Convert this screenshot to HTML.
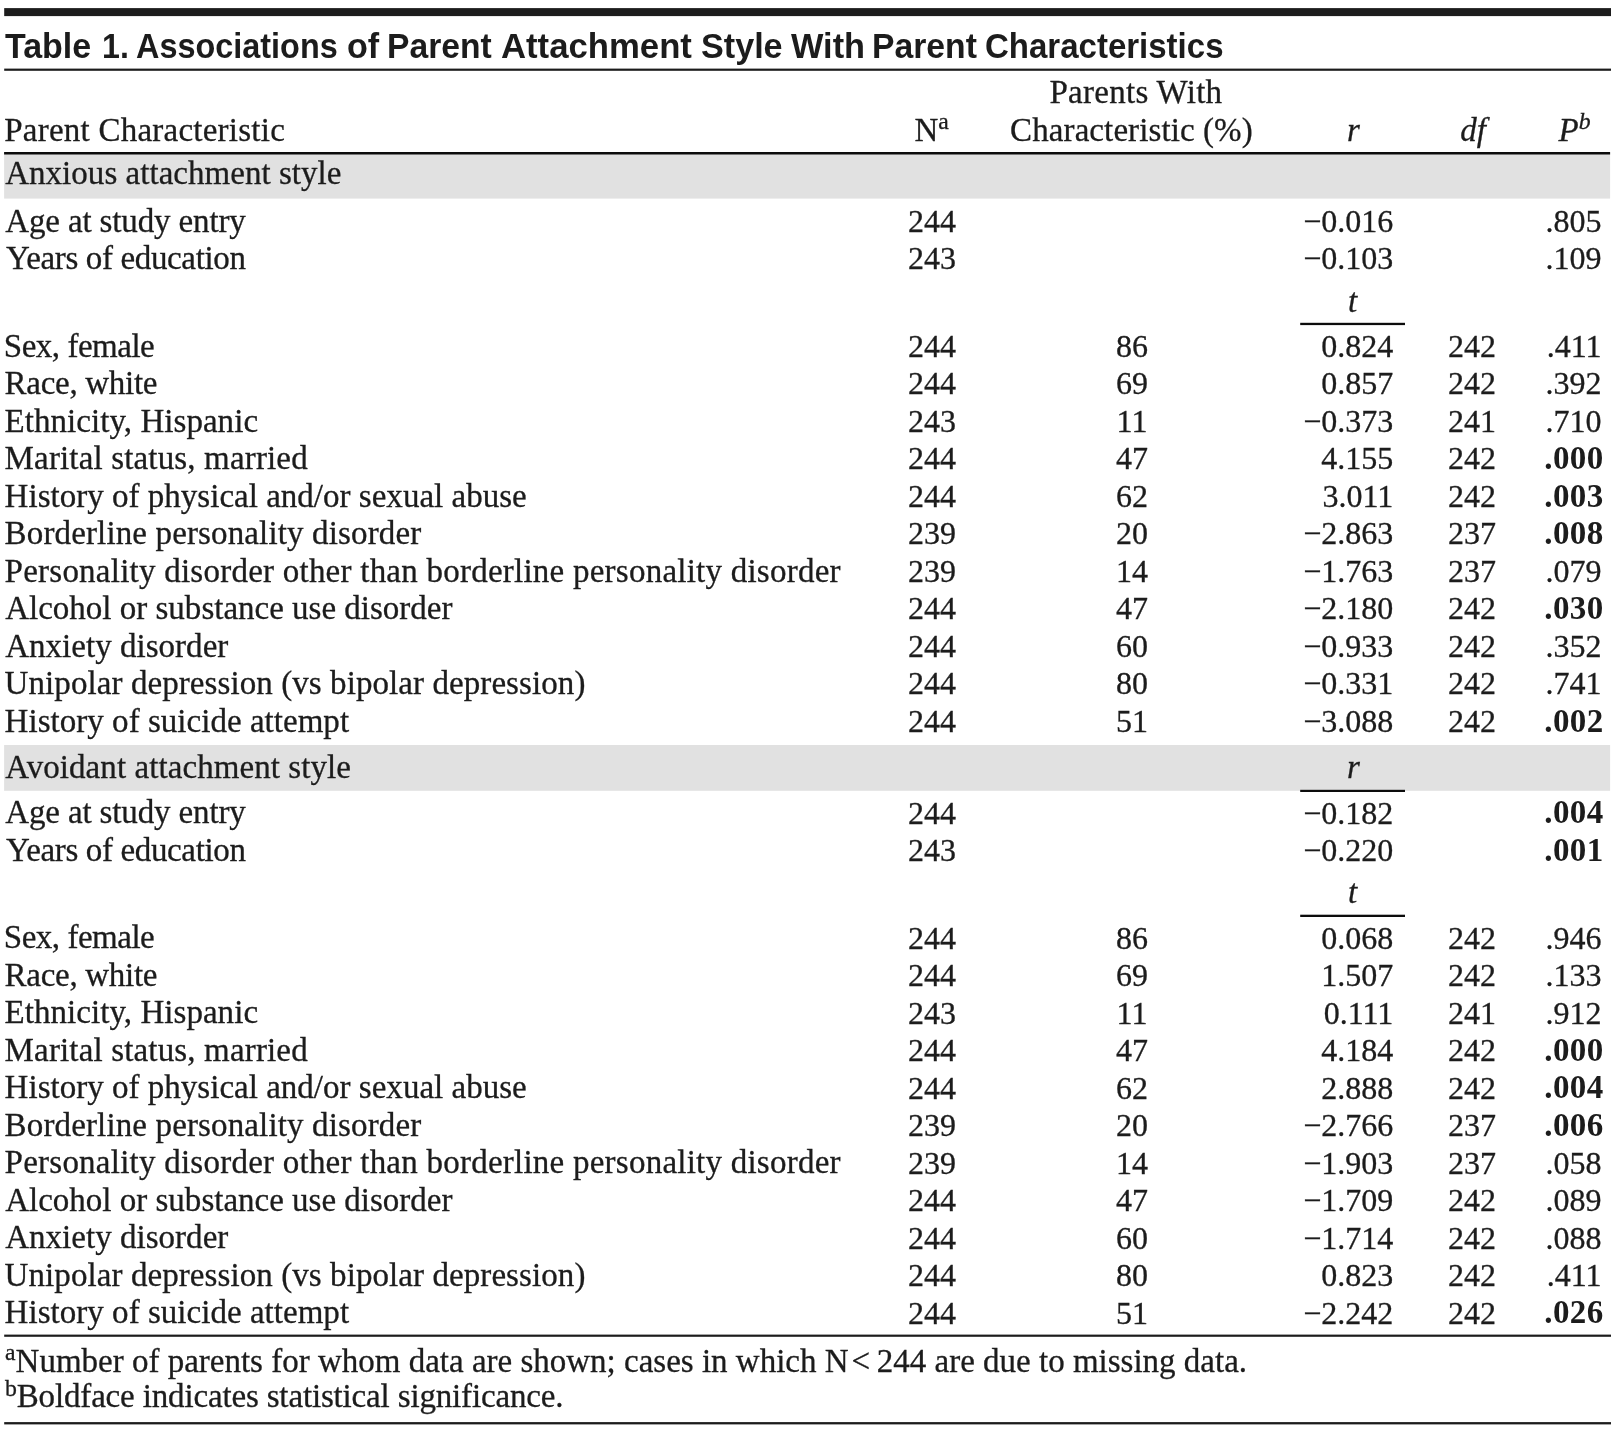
<!DOCTYPE html>
<html lang="en"><head><meta charset="utf-8"><title>Table 1</title>
<style>
html,body{margin:0;padding:0;background:#fff;}
body{width:1617px;height:1430px;position:relative;overflow:hidden;font-family:"Liberation Serif", serif;color:#1c1c1c;}
.ln{position:absolute;left:0;top:0;}
.tx{position:absolute;left:0;top:0;width:1617px;height:1430px;will-change:transform;}
.t{position:absolute;white-space:nowrap;line-height:40px;font-family:"Liberation Serif", serif;font-kerning:normal;-webkit-text-stroke:0.3px #1c1c1c;}
.s{font-family:"Liberation Sans", sans-serif;-webkit-text-stroke:0;}
.u{font-size:0.72em;vertical-align:baseline;position:relative;top:-0.49em;line-height:0;}
</style></head>
<body>
<svg class="ln" width="1617" height="1430" viewBox="0 0 1617 1430">
<rect x="4.1" y="153" width="1606" height="45.6" fill="#e1e1e1"/>
<rect x="4.1" y="745.0" width="1606" height="45.8" fill="#e1e1e1"/>
<rect x="4.2" y="8.1" width="1606.8" height="8" fill="#1c1c1c"/>
<rect x="4.2" y="68.6" width="1606.8" height="2.2" fill="#1c1c1c"/>
<rect x="4.1" y="152.0" width="1606" height="2.5" fill="#0c0c0c"/>
<rect x="1300.2" y="322.8" width="104.8" height="2.3" fill="#0c0c0c"/>
<rect x="1300.2" y="789.8" width="104.8" height="2.2" fill="#0c0c0c"/>
<rect x="1300.2" y="914.7" width="104.8" height="2.3" fill="#0c0c0c"/>
<rect x="4.2" y="1334.6" width="1606.8" height="2.2" fill="#1c1c1c"/>
<rect x="4.2" y="1422.1" width="1606.8" height="2.3" fill="#1c1c1c"/>
</svg>
<div class="tx">
<span class="t s" style="top:25.87px;font-size:35px;left:4.70px;transform:scaleX(0.9705);transform-origin:left center;font-weight:bold;">Table </span>
<span class="t s" style="top:25.87px;font-size:35px;left:102.06px;transform:scaleX(0.9192);transform-origin:left center;font-weight:bold;">1. </span>
<span class="t s" style="top:25.87px;font-size:35px;left:136.17px;transform:scaleX(0.9259);transform-origin:left center;font-weight:bold;">Associations </span>
<span class="t s" style="top:25.87px;font-size:35px;left:346.52px;transform:scaleX(0.9758);transform-origin:left center;font-weight:bold;">of </span>
<span class="t s" style="top:25.87px;font-size:35px;left:387.48px;transform:scaleX(0.9607);transform-origin:left center;font-weight:bold;">Parent </span>
<span class="t s" style="top:25.87px;font-size:35px;left:501.11px;transform:scaleX(0.9917);transform-origin:left center;font-weight:bold;">Attachment </span>
<span class="t s" style="top:25.87px;font-size:35px;left:701.12px;transform:scaleX(0.9756);transform-origin:left center;font-weight:bold;">Style </span>
<span class="t s" style="top:25.87px;font-size:35px;left:790.50px;transform:scaleX(0.9811);transform-origin:left center;font-weight:bold;">With </span>
<span class="t s" style="top:25.87px;font-size:35px;left:871.97px;transform:scaleX(0.9626);transform-origin:left center;font-weight:bold;">Parent </span>
<span class="t s" style="top:25.87px;font-size:35px;left:985.36px;transform:scaleX(0.9430);transform-origin:left center;font-weight:bold;">Characteristics </span>
<span class="t" style="top:109.86px;font-size:33px;letter-spacing:0.240px;left:4.20px;">Parent Characteristic</span>
<span class="t" style="top:109.86px;font-size:33px;left:931.70px;transform:translateX(-50%);transform-origin:center center;">N<sup class="u">a</sup></span>
<span class="t" style="top:72.06px;font-size:33px;letter-spacing:0.291px;left:1135.95px;transform:translateX(-50%);transform-origin:center center;">Parents With</span>
<span class="t" style="top:109.86px;font-size:33px;letter-spacing:0.094px;left:1131.45px;transform:translateX(-50%);transform-origin:center center;">Characteristic (%)</span>
<span class="t" style="top:109.86px;font-size:33px;left:1353.50px;transform:translateX(-50%);transform-origin:center center;"><i>r</i></span>
<span class="t" style="top:109.86px;font-size:33px;left:1473.00px;transform:translateX(-50%);transform-origin:center center;"><i>df</i></span>
<span class="t" style="top:109.86px;font-size:33px;left:1574.50px;transform:translateX(-50%);transform-origin:center center;"><i>P</i><sup class="u"><i>b</i></sup></span>
<span class="t" style="top:152.56px;font-size:33px;letter-spacing:0.035px;left:5.20px;">Anxious attachment style</span>
<span class="t" style="top:200.56px;font-size:33px;letter-spacing:-0.129px;left:5.20px;">Age at study entry</span>
<span class="t" style="top:200.90px;font-size:32px;left:932.00px;transform:translateX(-50%);transform-origin:center center;">244</span>
<span class="t" style="top:200.90px;font-size:32px;right:223.70px;">−0.016</span>
<span class="t" style="top:200.90px;font-size:32px;right:15.50px;">.805</span>
<span class="t" style="top:238.06px;font-size:33px;letter-spacing:-0.353px;left:6.00px;">Years of education</span>
<span class="t" style="top:238.40px;font-size:32px;left:932.00px;transform:translateX(-50%);transform-origin:center center;">243</span>
<span class="t" style="top:238.40px;font-size:32px;right:223.70px;">−0.103</span>
<span class="t" style="top:238.40px;font-size:32px;right:15.50px;">.109</span>
<span class="t" style="top:325.56px;font-size:33px;letter-spacing:-0.480px;left:3.80px;">Sex, female</span>
<span class="t" style="top:325.90px;font-size:32px;left:932.00px;transform:translateX(-50%);transform-origin:center center;">244</span>
<span class="t" style="top:325.90px;font-size:32px;left:1132.00px;transform:translateX(-50%);transform-origin:center center;">86</span>
<span class="t" style="top:325.90px;font-size:32px;right:223.70px;">0.824</span>
<span class="t" style="top:325.90px;font-size:32px;left:1472.00px;transform:translateX(-50%);transform-origin:center center;">242</span>
<span class="t" style="top:325.90px;font-size:32px;right:15.50px;">.411</span>
<span class="t" style="top:363.06px;font-size:33px;letter-spacing:-0.290px;left:4.60px;">Race, white</span>
<span class="t" style="top:363.40px;font-size:32px;left:932.00px;transform:translateX(-50%);transform-origin:center center;">244</span>
<span class="t" style="top:363.40px;font-size:32px;left:1132.00px;transform:translateX(-50%);transform-origin:center center;">69</span>
<span class="t" style="top:363.40px;font-size:32px;right:223.70px;">0.857</span>
<span class="t" style="top:363.40px;font-size:32px;left:1472.00px;transform:translateX(-50%);transform-origin:center center;">242</span>
<span class="t" style="top:363.40px;font-size:32px;right:15.50px;">.392</span>
<span class="t" style="top:400.56px;font-size:33px;letter-spacing:0.044px;left:4.60px;">Ethnicity, Hispanic</span>
<span class="t" style="top:400.90px;font-size:32px;left:932.00px;transform:translateX(-50%);transform-origin:center center;">243</span>
<span class="t" style="top:400.90px;font-size:32px;left:1132.00px;transform:translateX(-50%);transform-origin:center center;">11</span>
<span class="t" style="top:400.90px;font-size:32px;right:223.70px;">−0.373</span>
<span class="t" style="top:400.90px;font-size:32px;left:1472.00px;transform:translateX(-50%);transform-origin:center center;">241</span>
<span class="t" style="top:400.90px;font-size:32px;right:15.50px;">.710</span>
<span class="t" style="top:438.06px;font-size:33px;letter-spacing:0.155px;left:4.60px;">Marital status, married</span>
<span class="t" style="top:438.40px;font-size:32px;left:932.00px;transform:translateX(-50%);transform-origin:center center;">244</span>
<span class="t" style="top:438.40px;font-size:32px;left:1132.00px;transform:translateX(-50%);transform-origin:center center;">47</span>
<span class="t" style="top:438.40px;font-size:32px;right:223.70px;">4.155</span>
<span class="t" style="top:438.40px;font-size:32px;left:1472.00px;transform:translateX(-50%);transform-origin:center center;">242</span>
<span class="t" style="top:438.06px;font-size:33px;letter-spacing:0.400px;right:13.40px;font-weight:bold;-webkit-text-stroke:0;">.000</span>
<span class="t" style="top:475.56px;font-size:33px;letter-spacing:0.018px;left:4.60px;">History of physical and/or sexual abuse</span>
<span class="t" style="top:475.90px;font-size:32px;left:932.00px;transform:translateX(-50%);transform-origin:center center;">244</span>
<span class="t" style="top:475.90px;font-size:32px;left:1132.00px;transform:translateX(-50%);transform-origin:center center;">62</span>
<span class="t" style="top:475.90px;font-size:32px;right:223.70px;">3.011</span>
<span class="t" style="top:475.90px;font-size:32px;left:1472.00px;transform:translateX(-50%);transform-origin:center center;">242</span>
<span class="t" style="top:475.56px;font-size:33px;letter-spacing:0.400px;right:13.40px;font-weight:bold;-webkit-text-stroke:0;">.003</span>
<span class="t" style="top:513.06px;font-size:33px;letter-spacing:0.140px;left:4.60px;">Borderline personality disorder</span>
<span class="t" style="top:513.40px;font-size:32px;left:932.00px;transform:translateX(-50%);transform-origin:center center;">239</span>
<span class="t" style="top:513.40px;font-size:32px;left:1132.00px;transform:translateX(-50%);transform-origin:center center;">20</span>
<span class="t" style="top:513.40px;font-size:32px;right:223.70px;">−2.863</span>
<span class="t" style="top:513.40px;font-size:32px;left:1472.00px;transform:translateX(-50%);transform-origin:center center;">237</span>
<span class="t" style="top:513.06px;font-size:33px;letter-spacing:0.400px;right:13.40px;font-weight:bold;-webkit-text-stroke:0;">.008</span>
<span class="t" style="top:550.56px;font-size:33px;letter-spacing:0.239px;left:4.60px;">Personality disorder other than borderline personality disorder</span>
<span class="t" style="top:550.90px;font-size:32px;left:932.00px;transform:translateX(-50%);transform-origin:center center;">239</span>
<span class="t" style="top:550.90px;font-size:32px;left:1132.00px;transform:translateX(-50%);transform-origin:center center;">14</span>
<span class="t" style="top:550.90px;font-size:32px;right:223.70px;">−1.763</span>
<span class="t" style="top:550.90px;font-size:32px;left:1472.00px;transform:translateX(-50%);transform-origin:center center;">237</span>
<span class="t" style="top:550.90px;font-size:32px;right:15.50px;">.079</span>
<span class="t" style="top:588.06px;font-size:33px;letter-spacing:0.003px;left:5.20px;">Alcohol or substance use disorder</span>
<span class="t" style="top:588.40px;font-size:32px;left:932.00px;transform:translateX(-50%);transform-origin:center center;">244</span>
<span class="t" style="top:588.40px;font-size:32px;left:1132.00px;transform:translateX(-50%);transform-origin:center center;">47</span>
<span class="t" style="top:588.40px;font-size:32px;right:223.70px;">−2.180</span>
<span class="t" style="top:588.40px;font-size:32px;left:1472.00px;transform:translateX(-50%);transform-origin:center center;">242</span>
<span class="t" style="top:588.06px;font-size:33px;letter-spacing:0.400px;right:13.40px;font-weight:bold;-webkit-text-stroke:0;">.030</span>
<span class="t" style="top:625.56px;font-size:33px;letter-spacing:0.027px;left:5.20px;">Anxiety disorder</span>
<span class="t" style="top:625.90px;font-size:32px;left:932.00px;transform:translateX(-50%);transform-origin:center center;">244</span>
<span class="t" style="top:625.90px;font-size:32px;left:1132.00px;transform:translateX(-50%);transform-origin:center center;">60</span>
<span class="t" style="top:625.90px;font-size:32px;right:223.70px;">−0.933</span>
<span class="t" style="top:625.90px;font-size:32px;left:1472.00px;transform:translateX(-50%);transform-origin:center center;">242</span>
<span class="t" style="top:625.90px;font-size:32px;right:15.50px;">.352</span>
<span class="t" style="top:663.06px;font-size:33px;letter-spacing:0.081px;left:4.60px;">Unipolar depression (vs bipolar depression)</span>
<span class="t" style="top:663.40px;font-size:32px;left:932.00px;transform:translateX(-50%);transform-origin:center center;">244</span>
<span class="t" style="top:663.40px;font-size:32px;left:1132.00px;transform:translateX(-50%);transform-origin:center center;">80</span>
<span class="t" style="top:663.40px;font-size:32px;right:223.70px;">−0.331</span>
<span class="t" style="top:663.40px;font-size:32px;left:1472.00px;transform:translateX(-50%);transform-origin:center center;">242</span>
<span class="t" style="top:663.40px;font-size:32px;right:15.50px;">.741</span>
<span class="t" style="top:700.56px;font-size:33px;letter-spacing:0.032px;left:4.60px;">History of suicide attempt</span>
<span class="t" style="top:700.90px;font-size:32px;left:932.00px;transform:translateX(-50%);transform-origin:center center;">244</span>
<span class="t" style="top:700.90px;font-size:32px;left:1132.00px;transform:translateX(-50%);transform-origin:center center;">51</span>
<span class="t" style="top:700.90px;font-size:32px;right:223.70px;">−3.088</span>
<span class="t" style="top:700.90px;font-size:32px;left:1472.00px;transform:translateX(-50%);transform-origin:center center;">242</span>
<span class="t" style="top:700.56px;font-size:33px;letter-spacing:0.400px;right:13.40px;font-weight:bold;-webkit-text-stroke:0;">.002</span>
<span class="t" style="top:280.56px;font-size:33px;left:1352.70px;transform:translateX(-50%);transform-origin:center center;"><i>t</i></span>
<span class="t" style="top:746.66px;font-size:33px;letter-spacing:0.075px;left:5.20px;">Avoidant attachment style</span>
<span class="t" style="top:746.76px;font-size:33px;left:1353.50px;transform:translateX(-50%);transform-origin:center center;"><i>r</i></span>
<span class="t" style="top:792.46px;font-size:33px;letter-spacing:-0.129px;left:5.20px;">Age at study entry</span>
<span class="t" style="top:792.80px;font-size:32px;left:932.00px;transform:translateX(-50%);transform-origin:center center;">244</span>
<span class="t" style="top:792.80px;font-size:32px;right:223.70px;">−0.182</span>
<span class="t" style="top:792.46px;font-size:33px;letter-spacing:0.400px;right:13.40px;font-weight:bold;-webkit-text-stroke:0;">.004</span>
<span class="t" style="top:829.96px;font-size:33px;letter-spacing:-0.353px;left:6.00px;">Years of education</span>
<span class="t" style="top:830.30px;font-size:32px;left:932.00px;transform:translateX(-50%);transform-origin:center center;">243</span>
<span class="t" style="top:830.30px;font-size:32px;right:223.70px;">−0.220</span>
<span class="t" style="top:829.96px;font-size:33px;letter-spacing:0.400px;right:13.40px;font-weight:bold;-webkit-text-stroke:0;">.001</span>
<span class="t" style="top:917.46px;font-size:33px;letter-spacing:-0.480px;left:3.80px;">Sex, female</span>
<span class="t" style="top:917.80px;font-size:32px;left:932.00px;transform:translateX(-50%);transform-origin:center center;">244</span>
<span class="t" style="top:917.80px;font-size:32px;left:1132.00px;transform:translateX(-50%);transform-origin:center center;">86</span>
<span class="t" style="top:917.80px;font-size:32px;right:223.70px;">0.068</span>
<span class="t" style="top:917.80px;font-size:32px;left:1472.00px;transform:translateX(-50%);transform-origin:center center;">242</span>
<span class="t" style="top:917.80px;font-size:32px;right:15.50px;">.946</span>
<span class="t" style="top:954.96px;font-size:33px;letter-spacing:-0.290px;left:4.60px;">Race, white</span>
<span class="t" style="top:955.30px;font-size:32px;left:932.00px;transform:translateX(-50%);transform-origin:center center;">244</span>
<span class="t" style="top:955.30px;font-size:32px;left:1132.00px;transform:translateX(-50%);transform-origin:center center;">69</span>
<span class="t" style="top:955.30px;font-size:32px;right:223.70px;">1.507</span>
<span class="t" style="top:955.30px;font-size:32px;left:1472.00px;transform:translateX(-50%);transform-origin:center center;">242</span>
<span class="t" style="top:955.30px;font-size:32px;right:15.50px;">.133</span>
<span class="t" style="top:992.46px;font-size:33px;letter-spacing:0.044px;left:4.60px;">Ethnicity, Hispanic</span>
<span class="t" style="top:992.80px;font-size:32px;left:932.00px;transform:translateX(-50%);transform-origin:center center;">243</span>
<span class="t" style="top:992.80px;font-size:32px;left:1132.00px;transform:translateX(-50%);transform-origin:center center;">11</span>
<span class="t" style="top:992.80px;font-size:32px;right:223.70px;">0.111</span>
<span class="t" style="top:992.80px;font-size:32px;left:1472.00px;transform:translateX(-50%);transform-origin:center center;">241</span>
<span class="t" style="top:992.80px;font-size:32px;right:15.50px;">.912</span>
<span class="t" style="top:1029.96px;font-size:33px;letter-spacing:0.155px;left:4.60px;">Marital status, married</span>
<span class="t" style="top:1030.30px;font-size:32px;left:932.00px;transform:translateX(-50%);transform-origin:center center;">244</span>
<span class="t" style="top:1030.30px;font-size:32px;left:1132.00px;transform:translateX(-50%);transform-origin:center center;">47</span>
<span class="t" style="top:1030.30px;font-size:32px;right:223.70px;">4.184</span>
<span class="t" style="top:1030.30px;font-size:32px;left:1472.00px;transform:translateX(-50%);transform-origin:center center;">242</span>
<span class="t" style="top:1029.96px;font-size:33px;letter-spacing:0.400px;right:13.40px;font-weight:bold;-webkit-text-stroke:0;">.000</span>
<span class="t" style="top:1067.46px;font-size:33px;letter-spacing:0.018px;left:4.60px;">History of physical and/or sexual abuse</span>
<span class="t" style="top:1067.80px;font-size:32px;left:932.00px;transform:translateX(-50%);transform-origin:center center;">244</span>
<span class="t" style="top:1067.80px;font-size:32px;left:1132.00px;transform:translateX(-50%);transform-origin:center center;">62</span>
<span class="t" style="top:1067.80px;font-size:32px;right:223.70px;">2.888</span>
<span class="t" style="top:1067.80px;font-size:32px;left:1472.00px;transform:translateX(-50%);transform-origin:center center;">242</span>
<span class="t" style="top:1067.46px;font-size:33px;letter-spacing:0.400px;right:13.40px;font-weight:bold;-webkit-text-stroke:0;">.004</span>
<span class="t" style="top:1104.96px;font-size:33px;letter-spacing:0.140px;left:4.60px;">Borderline personality disorder</span>
<span class="t" style="top:1105.30px;font-size:32px;left:932.00px;transform:translateX(-50%);transform-origin:center center;">239</span>
<span class="t" style="top:1105.30px;font-size:32px;left:1132.00px;transform:translateX(-50%);transform-origin:center center;">20</span>
<span class="t" style="top:1105.30px;font-size:32px;right:223.70px;">−2.766</span>
<span class="t" style="top:1105.30px;font-size:32px;left:1472.00px;transform:translateX(-50%);transform-origin:center center;">237</span>
<span class="t" style="top:1104.96px;font-size:33px;letter-spacing:0.400px;right:13.40px;font-weight:bold;-webkit-text-stroke:0;">.006</span>
<span class="t" style="top:1142.46px;font-size:33px;letter-spacing:0.239px;left:4.60px;">Personality disorder other than borderline personality disorder</span>
<span class="t" style="top:1142.80px;font-size:32px;left:932.00px;transform:translateX(-50%);transform-origin:center center;">239</span>
<span class="t" style="top:1142.80px;font-size:32px;left:1132.00px;transform:translateX(-50%);transform-origin:center center;">14</span>
<span class="t" style="top:1142.80px;font-size:32px;right:223.70px;">−1.903</span>
<span class="t" style="top:1142.80px;font-size:32px;left:1472.00px;transform:translateX(-50%);transform-origin:center center;">237</span>
<span class="t" style="top:1142.80px;font-size:32px;right:15.50px;">.058</span>
<span class="t" style="top:1179.96px;font-size:33px;letter-spacing:0.003px;left:5.20px;">Alcohol or substance use disorder</span>
<span class="t" style="top:1180.30px;font-size:32px;left:932.00px;transform:translateX(-50%);transform-origin:center center;">244</span>
<span class="t" style="top:1180.30px;font-size:32px;left:1132.00px;transform:translateX(-50%);transform-origin:center center;">47</span>
<span class="t" style="top:1180.30px;font-size:32px;right:223.70px;">−1.709</span>
<span class="t" style="top:1180.30px;font-size:32px;left:1472.00px;transform:translateX(-50%);transform-origin:center center;">242</span>
<span class="t" style="top:1180.30px;font-size:32px;right:15.50px;">.089</span>
<span class="t" style="top:1217.46px;font-size:33px;letter-spacing:0.027px;left:5.20px;">Anxiety disorder</span>
<span class="t" style="top:1217.80px;font-size:32px;left:932.00px;transform:translateX(-50%);transform-origin:center center;">244</span>
<span class="t" style="top:1217.80px;font-size:32px;left:1132.00px;transform:translateX(-50%);transform-origin:center center;">60</span>
<span class="t" style="top:1217.80px;font-size:32px;right:223.70px;">−1.714</span>
<span class="t" style="top:1217.80px;font-size:32px;left:1472.00px;transform:translateX(-50%);transform-origin:center center;">242</span>
<span class="t" style="top:1217.80px;font-size:32px;right:15.50px;">.088</span>
<span class="t" style="top:1254.96px;font-size:33px;letter-spacing:0.081px;left:4.60px;">Unipolar depression (vs bipolar depression)</span>
<span class="t" style="top:1255.30px;font-size:32px;left:932.00px;transform:translateX(-50%);transform-origin:center center;">244</span>
<span class="t" style="top:1255.30px;font-size:32px;left:1132.00px;transform:translateX(-50%);transform-origin:center center;">80</span>
<span class="t" style="top:1255.30px;font-size:32px;right:223.70px;">0.823</span>
<span class="t" style="top:1255.30px;font-size:32px;left:1472.00px;transform:translateX(-50%);transform-origin:center center;">242</span>
<span class="t" style="top:1255.30px;font-size:32px;right:15.50px;">.411</span>
<span class="t" style="top:1292.46px;font-size:33px;letter-spacing:0.032px;left:4.60px;">History of suicide attempt</span>
<span class="t" style="top:1292.80px;font-size:32px;left:932.00px;transform:translateX(-50%);transform-origin:center center;">244</span>
<span class="t" style="top:1292.80px;font-size:32px;left:1132.00px;transform:translateX(-50%);transform-origin:center center;">51</span>
<span class="t" style="top:1292.80px;font-size:32px;right:223.70px;">−2.242</span>
<span class="t" style="top:1292.80px;font-size:32px;left:1472.00px;transform:translateX(-50%);transform-origin:center center;">242</span>
<span class="t" style="top:1292.46px;font-size:33px;letter-spacing:0.400px;right:13.40px;font-weight:bold;-webkit-text-stroke:0;">.026</span>
<span class="t" style="top:872.16px;font-size:33px;left:1352.70px;transform:translateX(-50%);transform-origin:center center;"><i>t</i></span>
<span class="t" style="top:1340.86px;font-size:33px;left:5.00px;"><sup class="u">a</sup>Number of parents for whom data are shown; cases in which N<span style='margin-left:3px'>&lt;</span>&#8201;244 are due to missing data.</span>
<span class="t" style="top:1376.16px;font-size:33px;letter-spacing:-0.155px;left:5.00px;"><sup class="u">b</sup>Boldface indicates statistical significance.</span>
</div>
</body></html>
